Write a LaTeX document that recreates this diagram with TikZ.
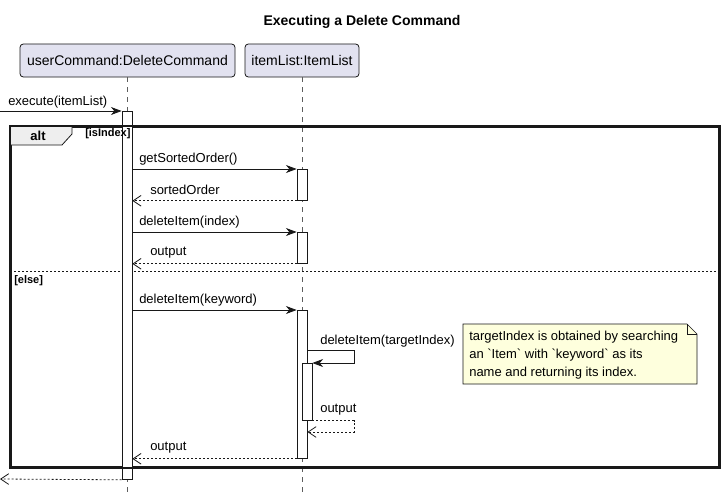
\documentclass[tikz,border=0pt]{standalone}
\usepackage{fontspec}
\setmainfont{Liberation Sans}
\usetikzlibrary{arrows.meta}
\definecolor{partfill}{HTML}{E2E2F0}
\definecolor{lineclr}{HTML}{181818}
\definecolor{notefill}{HTML}{FEFFDD}
\definecolor{tabfill}{HTML}{EEEEEE}
\tikzset{
  part/.style={draw=lineclr, fill=partfill, rounded corners=2.5pt, minimum height=24.75pt, inner sep=0pt, font=\fontsize{10.5}{12}\selectfont, line width=0.6pt},
  lifeline/.style={draw=lineclr!70, dash pattern=on 3.75pt off 3.75pt, line width=0.5pt},
  act/.style={draw=lineclr, fill=white, minimum width=7.5pt, inner sep=0pt, line width=0.6pt},
  sync/.style={draw=lineclr, line width=0.6pt, -{Stealth[length=8pt,width=6pt,inset=2.5pt]}},
  ret/.style={draw=lineclr, line width=0.6pt, dash pattern=on 1.5pt off 1.5pt, -{Straight Barb[length=6pt,width=8pt]}},
  lbl/.style={font=\fontsize{9.75}{11}\selectfont, inner sep=0pt, anchor=west},
  guard/.style={font=\bfseries\fontsize{8.25}{10}\selectfont, inner sep=0pt, anchor=west},
  notetxt/.style={font=\fontsize{9.75}{13.5}\selectfont, inner sep=0pt, anchor=north west, align=left},
}
\begin{document}
\begin{tikzpicture}[x=0.75pt,y=-0.75pt]
\useasboundingbox[fill=white] (0,0) rectangle (723,503);

% title
\node[font=\bfseries\fontsize{10.5}{12}\selectfont] (title) at (362,22) {Executing a Delete Command};

% participants
\node[part, minimum width=161.25pt] (p1) at (127.5,60.5) {userCommand:DeleteCommand};
\node[part, minimum width=85.5pt] (p2) at (302,60.5) {itemList:ItemList};
\coordinate (e1) at (127,495);
\coordinate (e2) at (302,495);
\draw[lifeline] (p1.south -| e1) -- (e1);
\draw[lifeline] (p2.south) -- (e2);

% alt frame
\node[draw=lineclr, line width=1.3pt, minimum width=531pt, minimum height=255pt, inner sep=0pt, anchor=north west] (alt) at (10,126) {};
\draw[draw=lineclr, fill=tabfill, line width=0.6pt] (alt.north west) -- (72,126) -- (72,134) coordinate (tabc) -- (62,145) -- (10,145) -- cycle;
\draw[draw=lineclr, line width=1.3pt] (alt.north west) rectangle (alt.south east);
\node[font=\bfseries\fontsize{9.75}{11}\selectfont, inner sep=0pt] (altlbl) at (38,136) {alt};
\coordinate (sepl) at (10,271);
\coordinate (sepr) at (718,271);
\draw[draw=lineclr, line width=0.5pt, dash pattern=on 1.5pt off 1.5pt] (sepl) -- (sepr);
\node[guard] (g2) at (14,281) {[else]};

% activations
\node[act, minimum height=276pt, anchor=north] (A1) at (127,111) {};
\node[act, minimum height=23.25pt, anchor=north] (A2) at (302,169) {};
\node[act, minimum height=23.25pt, anchor=north] (A3) at (302,232) {};
\node[act, minimum height=111pt, anchor=north] (A4) at (302,310) {};
\node[act, minimum height=42.75pt, anchor=north] (A5) at (307,363) {};
\draw[draw=lineclr, line width=1.3pt] (alt.north west -| A1.west) -- (alt.north west -| A1.east);
\draw[draw=lineclr, line width=1.3pt] (alt.south west -| A1.west) -- (alt.south west -| A1.east);
\node[guard] (g1) at (85,134) {[isIndex]};

% messages
\coordinate (in) at (0,111);
\draw[sync] (in) -- (A1.north west);
\node[lbl] (m1) at (8,102) {execute(itemList)};

\draw[sync] (A1.east |- A2.north) -- (A2.north west);
\node[lbl] (m2) at (139,159) {getSortedOrder()};
\draw[ret] (A2.south west) -- (A1.east |- A2.south);
\node[lbl] (m3) at (150,190) {sortedOrder};

\draw[sync] (A1.east |- A3.north) -- (A3.north west);
\node[lbl] (m4) at (139,222) {deleteItem(index)};
\draw[ret] (A3.south west) -- (A1.east |- A3.south);
\node[lbl] (m5) at (150,253) {output};

\draw[sync] (A1.east |- A4.north) -- (A4.north west);
\node[lbl] (m6) at (139,300) {deleteItem(keyword)};

\coordinate (s1) at (354,350);
\draw[sync] (A4.east |- s1) -- (s1) |- (A5.north east);
\node[lbl] (m7) at (320,341) {deleteItem(targetIndex)};

\coordinate (r1) at (354,432);
\draw[ret] (A5.south east) -| (r1) -- (A4.east |- r1);
\node[lbl] (m8) at (320,410) {output};

\draw[ret] (A4.south west) -- (A1.east |- A4.south);
\node[lbl] (m9) at (150,448) {output};

\coordinate (out) at (0,479);
\draw[ret] (A1.south west) -- (out);

% note
\draw[draw=lineclr, fill=notefill, line width=0.5pt] (463,324) -- (687,324) coordinate (nf) -- (697,334) -- (697,384) -- (463,384) -- cycle;
\draw[draw=lineclr, line width=0.5pt] (nf) -- (687,334) -- (697,334);
\node[notetxt] (note) at (469,331) {targetIndex is obtained by searching\\an \textasciigrave Item\textasciigrave{} with \textasciigrave keyword\textasciigrave{} as its\\name and returning its index.};
\end{tikzpicture}
\end{document}
